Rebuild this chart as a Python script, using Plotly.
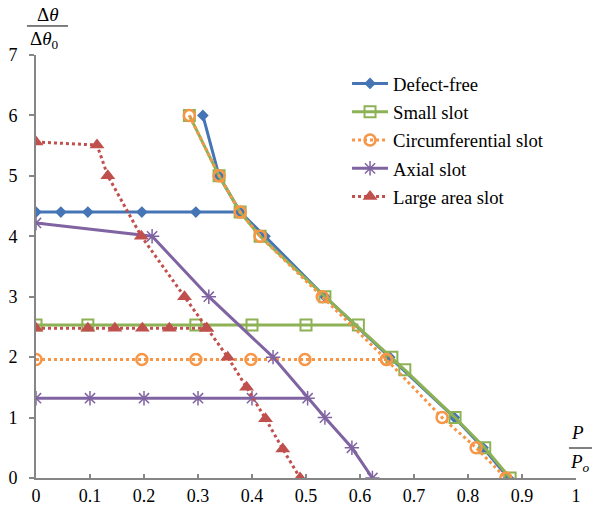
import plotly.graph_objects as go

# ---- data ----
series_names = ["Defect-free", "Small slot", "Circumferential slot", "Axial slot", "Large area slot"]

defect_x = [0, 0.046, 0.096, 0.196, 0.296, 0.378, 0.424, 0.535, 0.655, 0.775, 0.828, 0.875, None, 0.309, 0.339, 0.378]
defect_y = [4.4, 4.4, 4.4, 4.4, 4.4, 4.4, 4.0, 3.0, 2.0, 1.0, 0.5, 0.0, None, 6.0, 5.0, 4.4]

small_x = [0.284, 0.339, 0.378, 0.415, 0.535, 0.659, 0.683, 0.776, 0.831, 0.878, None, 0, 0.096, 0.296, 0.4, 0.5, 0.597]
small_y = [6.0, 5.0, 4.4, 4.0, 3.0, 2.0, 1.79, 1.0, 0.5, 0.0, None, 2.53, 2.53, 2.53, 2.53, 2.53, 2.53]

circ_x = [0.284, 0.339, 0.378, 0.415, 0.53, 0.649, 0.752, 0.815, 0.87, None, 0, 0.196, 0.296, 0.398, 0.498, 0.649]
circ_y = [6.0, 5.0, 4.4, 4.0, 3.0, 1.96, 1.0, 0.5, 0.0, None, 1.96, 1.96, 1.96, 1.96, 1.96, 1.96]

axial_x = [0, 0.215, 0.32, 0.439, 0.535, 0.585, 0.623, None, 0, 0.1, 0.2, 0.3, 0.4, 0.503]
axial_y = [4.22, 4.0, 3.0, 2.0, 1.0, 0.5, 0.0, None, 1.32, 1.32, 1.32, 1.32, 1.32, 1.32]

large_x = [0, 0.113, 0.133, 0.195, 0.275, 0.316, 0.355, 0.39, 0.425, 0.457, 0.489, None, 0, 0.096, 0.146, 0.197, 0.247, 0.316]
large_y = [5.56, 5.51, 5.0, 4.0, 3.0, 2.48, 2.0, 1.5, 0.98, 0.48, 0.0, None, 2.48, 2.48, 2.48, 2.48, 2.48, 2.48]

x_tickvals = [0, 0.1, 0.2, 0.3, 0.4, 0.5, 0.6, 0.7, 0.8, 0.9, 1]
x_ticktext = ["0", "0.1", "0.2", "0.3", "0.4", "0.5", "0.6", "0.7", "0.8", "0.9", "1"]
y_tickvals = [0, 1, 2, 3, 4, 5, 6, 7]
y_ticktext = ["0", "1", "2", "3", "4", "5", "6", "7"]

# ---- styles ----
FONT = "Liberation Serif"
BLUE, GREEN, ORANGE, PURPLE, RED = "#4575B5", "#8DB255", "#F79646", "#8064A2", "#C0504D"

fig = go.Figure()
fig.add_trace(go.Scatter(x=defect_x, y=defect_y, name=series_names[0], mode="lines+markers",
                         line=dict(color=BLUE, width=3),
                         marker=dict(symbol="diamond", size=9, color=BLUE),
                         legendgroup="a"))
fig.add_trace(go.Scatter(x=small_x, y=small_y, name=series_names[1], mode="lines+markers",
                         line=dict(color=GREEN, width=3),
                         marker=dict(symbol="square-open", size=11, color=GREEN, line=dict(width=2, color=GREEN)),
                         legendgroup="b"))
fig.add_trace(go.Scatter(x=circ_x, y=circ_y, name=series_names[2], mode="lines+markers",
                         line=dict(color=ORANGE, width=3, dash="dot"),
                         marker=dict(symbol="circle-open", size=11, color=ORANGE, line=dict(width=2.5, color=ORANGE)),
                         legendgroup="c"))
fig.add_trace(go.Scatter(x=axial_x, y=axial_y, name=series_names[3], mode="lines+markers",
                         line=dict(color=PURPLE, width=3),
                         marker=dict(symbol="asterisk-open", size=12, color=PURPLE, line=dict(width=1.5, color=PURPLE)),
                         legendgroup="d"))
fig.add_trace(go.Scatter(x=large_x, y=large_y, name=series_names[4], mode="lines+markers",
                         line=dict(color=RED, width=3, dash="dot"),
                         marker=dict(symbol="triangle-up", size=13, color=RED),
                         legendgroup="e"))

axis_common = dict(showline=True, linecolor="#868686", linewidth=2, showgrid=False, zeroline=False,
                   tickcolor="#868686", tickwidth=1.5, automargin=False,
                   tickfont=dict(family=FONT, size=18, color="black"))

fig.update_xaxes(range=[0, 1], tickvals=x_tickvals, ticktext=x_ticktext,
                 ticks="inside", ticklen=4, **axis_common)
fig.update_yaxes(range=[0, 7], tickvals=y_tickvals, ticktext=y_ticktext,
                 ticks="outside", ticklen=5, ticklabelstandoff=8, **axis_common)

ann_font = dict(family=FONT, size=19, color="black")
fig.update_layout(
    width=593, height=508,
    margin=dict(l=36, r=17, t=55, b=30, autoexpand=False),
    plot_bgcolor="white", paper_bgcolor="white",
    font=dict(family=FONT, size=18, color="black"),
    legend=dict(x=0.576, y=0.977, xanchor="left", yanchor="top", bgcolor="rgba(0,0,0,0)",
                font=dict(family=FONT, size=18.7, color="black"), tracegroupgap=1, itemwidth=36),
    annotations=[
        dict(text="Δ<i>θ</i>", xref="paper", yref="paper", x=0.022, y=1.0946, showarrow=False,
             xanchor="center", yanchor="middle", font=ann_font),
        dict(text="Δ<i>θ</i><sub>0</sub>", xref="paper", yref="paper", x=0.016, y=1.0355, showarrow=False,
             xanchor="center", yanchor="middle", font=ann_font),
        dict(text="<i>P</i>", xref="paper", yref="paper", x=1.0019, y=0.1064, showarrow=False,
             xanchor="center", yanchor="middle", font=ann_font),
        dict(text="<i>P</i><sub><i>o</i></sub>", xref="paper", yref="paper", x=1.007, y=0.0355, showarrow=False,
             xanchor="center", yanchor="middle", font=ann_font),
    ],
    shapes=[
        dict(type="line", xref="paper", yref="paper", x0=-0.0167, x1=0.0593, y0=1.0686, y1=1.0686,
             line=dict(color="black", width=1)),
        dict(type="line", xref="paper", yref="paper", x0=0.987, x1=1.0296, y0=0.0709, y1=0.0709,
             line=dict(color="black", width=1)),
    ],
)

fig.write_html("out.html", config={"displayModeBar": False},
               post_script="document.body.style.margin='0';document.body.style.padding='0';")
